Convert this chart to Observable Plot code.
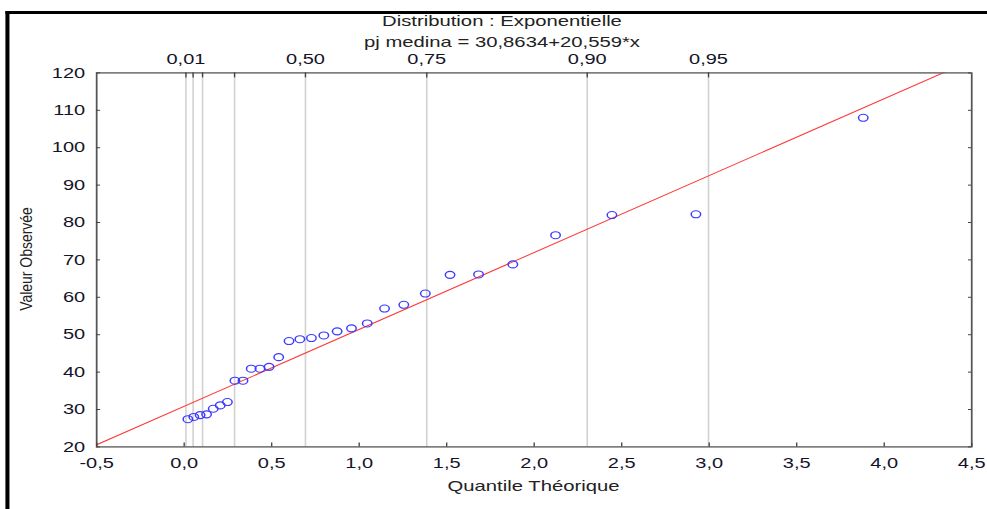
<!DOCTYPE html>
<html>
<head>
<meta charset="utf-8">
<script src="https://cdn.jsdelivr.net/npm/d3@7"></script>
<script src="https://cdn.jsdelivr.net/npm/@observablehq/plot@0.6"></script>
<style>
  html, body { margin: 0; padding: 0; background: #fff; overflow: hidden; }
  #page { position: relative; width: 987px; height: 509px; overflow: hidden; background: #fff; }
  #wrap { position: absolute; left: 0; top: 0; width: 731px; height: 509px;
          transform: scaleX(1.3502); transform-origin: 0 0;
          font-family: "Liberation Sans", Arial, sans-serif; color: #222; }
  #wrap svg { position: absolute; left: 0; top: 0; background: none; }
  #frame { position: absolute; left: 4.4px; top: 11px; right: -20px; bottom: -20px;
           border-top: 3px solid #000; border-left: 3px solid #000; pointer-events: none; }
  .t { position: absolute; font-size: 15px; line-height: 15px; white-space: nowrap;
       transform: translateX(-50%); color: #222; }
  #ylab { position: absolute; left: 25.5px; top: 259px; font-size: 17px;
          font-family: "Liberation Sans", Arial, sans-serif;
          color: #222; white-space: nowrap; line-height: 17px;
          transform: translate(-50%, -50%) rotate(-90deg) scaleX(0.82); }
</style>
</head>
<body>
<div id="page">
  <div id="wrap"></div>
  <div id="ylab">Valeur Observée</div>
</div>
<script>
// ---- data ----
const theoreticalQuantile = [0.021, 0.055, 0.091, 0.128, 0.166, 0.206, 0.247, 0.290, 0.336, 0.383,
                             0.433, 0.485, 0.540, 0.599, 0.661, 0.727, 0.798, 0.874, 0.956, 1.046,
                             1.145, 1.255, 1.378, 1.519, 1.682, 1.878, 2.122, 2.444, 2.924, 3.880];
const observedValue = [27.4, 28.0, 28.5, 28.7, 30.2, 31.1, 32.0, 37.7, 37.7, 40.9,
                       40.9, 41.4, 44.0, 48.3, 48.8, 49.1, 49.8, 50.9, 51.7, 53.0,
                       57.0, 58.0, 61.0, 66.0, 66.1, 68.8, 76.6, 82.0, 82.2, 108.0];
const fitIntercept = 30.8634;
const fitSlope = 20.559;
const fitXRange = [-0.5, 4.5];

const xTicks = [-0.5, 0, 0.5, 1, 1.5, 2, 2.5, 3, 3.5, 4, 4.5];
const yTicks = [20, 30, 40, 50, 60, 70, 80, 90, 100, 110, 120];
const topTickPos = [0.010, 0.051, 0.105, 0.288, 0.693, 1.386, 2.303, 2.996];
const topTickLabels = ["0,01", "", "", "", "0,50", "0,75", "0,90", "0,95"];

const titleText = "Distribution : Exponentielle";
const subtitleText = "pj medina = 30,8634+20,559*x";
const xLabelText = "Quantile Théorique";

// ---- build ----
const points = theoreticalQuantile.map((x, i) => ({x, y: observedValue[i]}));
const fitLine = fitXRange.map(x => ({x, y: fitIntercept + fitSlope * x}));
const topLabelMap = new Map(topTickPos.map((p, i) => [p, topTickLabels[i]]));

const W = 731, H = 509;
const mL = 71.1, mR = 11.8, mT = 72.4, mB = 62.6;
const plotW = W - mL - mR, plotH = H - mT - mB;

const chart = Plot.plot({
  width: W, height: H,
  marginLeft: mL, marginRight: mR, marginTop: mT, marginBottom: mB,
  style: {fontSize: "14.8px", fontFamily: "'Liberation Sans', Arial, sans-serif", color: "#141428", background: "none"},
  x: {domain: [-0.5, 4.5]},
  y: {domain: [20, 120]},
  marks: [
    Plot.ruleX(topTickPos, {x: d => d, stroke: "#d2d2d2", strokeWidth: 1.2}),
    Plot.line(fitLine, {x: "x", y: "y", stroke: "#ff3838", strokeWidth: 1, clip: true}),
    Plot.dot(points, {x: "x", y: "y", r: 3.5, stroke: "#3c3cff", strokeWidth: 1.1, fill: "none"}),
    Plot.frame({stroke: "#555", strokeWidth: 1.3}),
    Plot.ruleX(xTicks, {x: d => d, insetTop: plotH - 4, stroke: "#444"}),
    Plot.ruleX(topTickPos, {x: d => d, insetBottom: plotH - 5, stroke: "#444"}),
    Plot.ruleY(yTicks, {y: d => d, insetRight: plotW - 3, stroke: "#444"}),
    Plot.ruleY(yTicks, {y: d => d, insetLeft: plotW - 2.3, stroke: "#444"}),
    Plot.axisX(xTicks, {anchor: "bottom", tickSize: 0, tickPadding: 11,
      tickFormat: d => d.toFixed(1).replace(".", ","), label: null}),
    Plot.axisX(topTickPos, {anchor: "top", tickSize: 0, tickPadding: 8.5,
      tickFormat: d => topLabelMap.get(d) ?? "", label: null}),
    Plot.axisY(yTicks, {anchor: "left", tickSize: 0, tickPadding: 8.5,
      tickFormat: d => String(d), label: null})
  ]
});

const wrap = document.getElementById("wrap");
wrap.appendChild(chart);

function addText(txt, cx, top) {
  const d = document.createElement("div");
  d.className = "t";
  d.textContent = txt;
  d.style.left = cx + "px";
  d.style.top = top + "px";
  wrap.appendChild(d);
}
addText(titleText, 371.8, 12.8);
addText(subtitleText, 371.8, 33.8);
addText(xLabelText, mL + plotW / 2, 478.3);

const frame = document.createElement("div");
frame.id = "frame";
wrap.appendChild(frame);
</script>
</body>
</html>
